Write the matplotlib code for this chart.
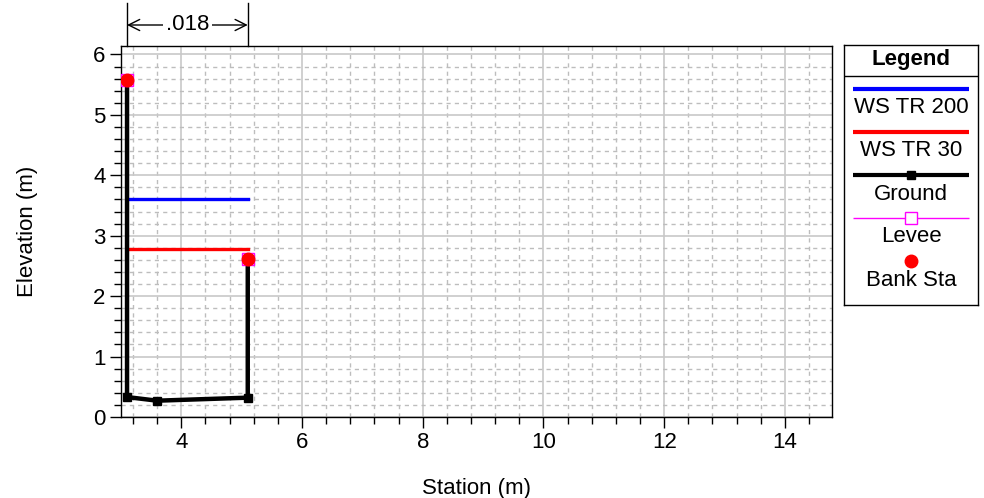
import numpy as np
import matplotlib
matplotlib.use("Agg")
import matplotlib.pyplot as plt
from matplotlib.ticker import MultipleLocator

plt.rcParams["font.family"] = ["Liberation Sans", "DejaVu Sans"]

# -----------------------------
# Данные
# -----------------------------
ground_x = [3.1, 3.1, 3.6, 5.1, 5.1]
ground_y = [5.58, 0.33, 0.27, 0.32, 2.62]

ws200_x = [3.1, 5.1]
ws200_y = [3.61, 3.61]

ws30_x = [3.1, 5.1]
ws30_y = [2.78, 2.78]

levee_x = [3.1, 5.1]
levee_y = [5.58, 2.62]

bank_x = [3.1, 5.1]
bank_y = [5.58, 2.62]

n_label = ".018"

legend_names = ["WS TR 200", "WS TR 30", "Ground", "Levee", "Bank Sta"]

FS = 16

# -----------------------------
# Фигура
# -----------------------------
W, H = 984, 498
fig = plt.figure(figsize=(W / 100, H / 100), dpi=100)

ax = fig.add_axes([121 / W, 1 - 417 / H, (832 - 121) / W, (417 - 46) / H])

ax.plot(ws200_x, ws200_y, color="blue", lw=2.4, zorder=3)
ax.plot(ws30_x, ws30_y, color="red", lw=2.4, zorder=3)
ax.plot(ground_x, ground_y, color="black", lw=3.2, marker="s", ms=6, zorder=4)
ax.plot(levee_x, levee_y, ls="none", marker="s", ms=9, mfc="none",
        mec="magenta", mew=1.0, zorder=5)
ax.plot(bank_x, bank_y, ls="none", marker="o", ms=9, color="red", zorder=6)

ax.set_xlim(3.0, 14.78)
ax.set_ylim(0, 6.14)

ax.xaxis.set_major_locator(MultipleLocator(2))
ax.xaxis.set_minor_locator(MultipleLocator(0.4))
ax.yaxis.set_major_locator(MultipleLocator(1))
ax.yaxis.set_minor_locator(MultipleLocator(0.2))

ax.grid(True, which="major", color="#c8c8c8", lw=1.2, ls="-")
ax.grid(True, which="minor", color="#bdbdbd", lw=1.0, ls=(0, (3, 3)))
ax.set_axisbelow(True)

ax.tick_params(which="major", direction="out", length=8, width=1, labelsize=FS,
               top=False, right=False, pad=3)
ax.tick_params(which="minor", direction="out", length=5, width=1, top=False, right=False)

ax.set_xlabel("Station (m)", fontsize=FS, labelpad=18)
ax.set_ylabel("Elevation (m)", fontsize=FS, labelpad=40)

for s in ax.spines.values():
    s.set_linewidth(1)

# размерная линия сверху (коэффициент шероховатости)
tr = ax.get_xaxis_transform()
y_arrow = (417 - 25) / (417 - 46)
y_top = (417 - 3) / (417 - 46)
for xb in bank_x:
    ax.plot([xb, xb], [1.0, y_top], color="black", lw=1, transform=tr, clip_on=False)
ax.annotate("", xy=(bank_x[0], y_arrow), xytext=(bank_x[1], y_arrow), xycoords=tr,
            textcoords=tr, arrowprops=dict(arrowstyle="<->", color="black", lw=1,
                                           mutation_scale=20, shrinkA=0, shrinkB=0))
ax.text(np.mean(bank_x), y_arrow, n_label, transform=tr, ha="center", va="center",
        fontsize=FS, bbox=dict(facecolor="white", edgecolor="none", pad=2))

# -----------------------------
# Легенда
# -----------------------------
lx0, lx1, ly0, ly1 = 844, 978, 45, 305
lax = fig.add_axes([lx0 / W, 1 - ly1 / H, (lx1 - lx0) / W, (ly1 - ly0) / H])
lax.set_xlim(lx0, lx1)
lax.set_ylim(ly1, ly0)
lax.set_xticks([])
lax.set_yticks([])
for s in lax.spines.values():
    s.set_linewidth(1)

lax.text((lx0 + lx1) / 2, 60, "Legend", ha="center", va="center", fontsize=FS, fontweight="bold")
lax.plot([lx0, lx1], [76, 76], color="black", lw=1)

xs = [853, 969]
xm = (xs[0] + xs[1]) / 2
styles = [
    dict(color="blue", lw=3),
    dict(color="red", lw=3),
    dict(color="black", lw=3),
    dict(color="magenta", lw=1),
    None,
]
for i, (name, st) in enumerate(zip(legend_names, styles)):
    y_line = 89 + i * 43
    y_txt = 108 + i * 43
    if st is not None:
        lax.plot(xs, [y_line, y_line], solid_capstyle="butt", **st)
    if name == "Ground":
        lax.plot([xm], [y_line], ls="none", marker="s", ms=6, color="black")
    if name == "Levee":
        lax.plot([xm], [y_line], ls="none", marker="s", ms=9, mfc="white", mec="magenta", mew=1)
    if name == "Bank Sta":
        lax.plot([xm], [y_line], ls="none", marker="o", ms=9, color="red")
    lax.text(xm, y_txt, name, ha="center", va="center", fontsize=FS)

fig.savefig("out.png", dpi=100)
